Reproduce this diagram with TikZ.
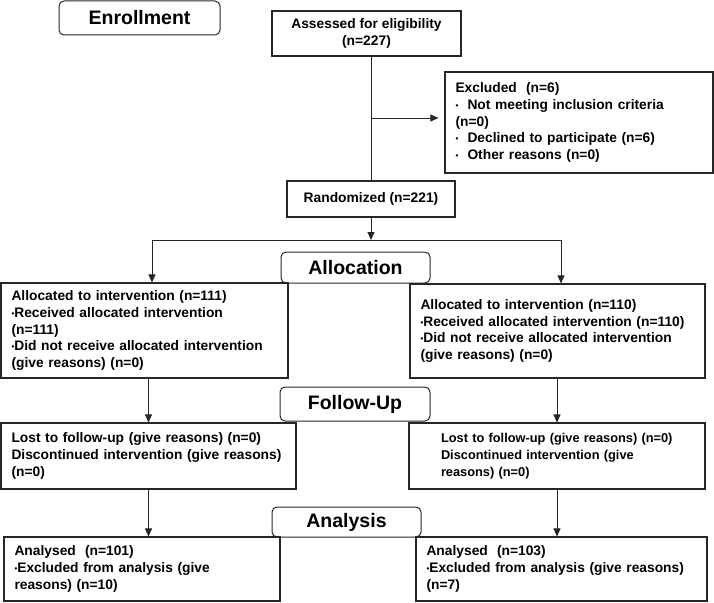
\documentclass[tikz,border=0pt]{standalone}
\usepackage{fontspec}
\setmainfont{Liberation Sans}
\usetikzlibrary{arrows.meta}
\newcommand{\dotmark}{\raisebox{0.15ex}{\fontsize{8}{8}\selectfont •}}

\begin{document}
\begin{tikzpicture}[x=1pt,y=-1pt,
    box/.style={draw=black!85, line width=1.1pt, inner sep=0pt, align=left, font=\bfseries\fontsize{13.8}{16.7}\selectfont},
    stage/.style={draw=black!85, line width=1pt, rounded corners=5pt, inner sep=0pt, font=\bfseries\fontsize{19.5}{23}\selectfont},
    link/.style={line width=0.9pt, black!85},
    arr/.style={link, -{Triangle[length=8pt,width=7pt]}}]
  \useasboundingbox (0,0) rectangle (714,602);
  \node[stage, minimum width=161pt, minimum height=34pt] (enrol) at (139.5,18) {Enrollment};
  \node[box, align=center, minimum width=189pt, minimum height=45pt] (assess) at (366.5,33.5) {Assessed for eligibility\\(n=227)};
  \node[box, text width=247pt, minimum width=268pt, minimum height=101pt] (excl) at (579,122.5) {Excluded\ \ (n=6)\\\dotmark\ \ Not meeting inclusion criteria\\(n=0)\\\dotmark\ \ Declined to participate (n=6)\\\dotmark\ \ Other reasons (n=0)};
  \node[box, minimum width=168pt, minimum height=36pt] (rand) at (371,199) {Randomized (n=221)};
  \node[stage, minimum width=149pt, minimum height=31pt] (allocst) at (355.5,267.5) {Allocation};
  \node[box, text width=266pt, minimum width=287pt, minimum height=95pt, fill=white] (alloc1) at (144.5,330.5) {Allocated to intervention (n=111)\\\dotmark Received allocated intervention\\(n=111)\\\dotmark Did not receive allocated intervention\\(give reasons) (n=0)};
  \node[box, text width=274pt, minimum width=295pt, minimum height=94pt] (alloc2) at (557.5,331) {Allocated to intervention (n=110)\\\dotmark Received allocated intervention (n=110)\\\dotmark Did not receive allocated intervention\\(give reasons) (n=0)};
  \node[stage, minimum width=150pt, minimum height=34pt] (fust) at (355,404) {Follow-Up};
  \node[box, text width=274pt, minimum width=295pt, minimum height=66pt] (fu1) at (148.5,456) {Lost to follow-up (give reasons) (n=0)\\Discontinued intervention (give reasons)\\(n=0)};
  \node[box, text width=232pt, minimum width=296pt, minimum height=66pt, font=\bfseries\fontsize{12.8}{16.7}\selectfont] (fu2) at (557,456) {Lost to follow-up (give reasons) (n=0)\\Discontinued intervention (give\\reasons) (n=0)};
  \node[stage, minimum width=149pt, minimum height=30pt] (anst) at (346.5,522) {Analysis};
  \node[box, text width=255pt, minimum width=276pt, minimum height=64pt] (an1) at (142,569) {Analysed\ \ (n=101)\\\dotmark Excluded from analysis (give\\reasons) (n=10)};
  \node[box, text width=270pt, minimum width=291pt, minimum height=64pt] (an2) at (561.5,569) {Analysed\ \ (n=103)\\\dotmark Excluded from analysis (give reasons)\\(n=7)};
  \coordinate (exclrow) at (0,118);
  \coordinate (forkL) at (152,240);
  \coordinate (forkR) at (561,240);
  \draw[link] (assess.south -| rand.north) -- (rand.north);
  \draw[arr, shorten >=6pt] (rand.north |- exclrow) -- (excl.west |- exclrow);
  \draw[arr] (rand.south) -- (rand.south |- forkL);
  \draw[link] (forkL) -- (forkR);
  \draw[arr] (forkL) -- (forkL |- alloc1.north);
  \draw[arr] (forkR) -- (forkR |- alloc2.north);
  \draw[arr] (fu1.north |- alloc1.south) -- (fu1.north);
  \draw[arr] (fu2.north |- alloc2.south) -- (fu2.north);
  \draw[arr] (fu1.south) -- (fu1.south |- an1.north);
  \draw[arr] (fu2.south) -- (fu2.south |- an2.north);
\end{tikzpicture}
\end{document}
